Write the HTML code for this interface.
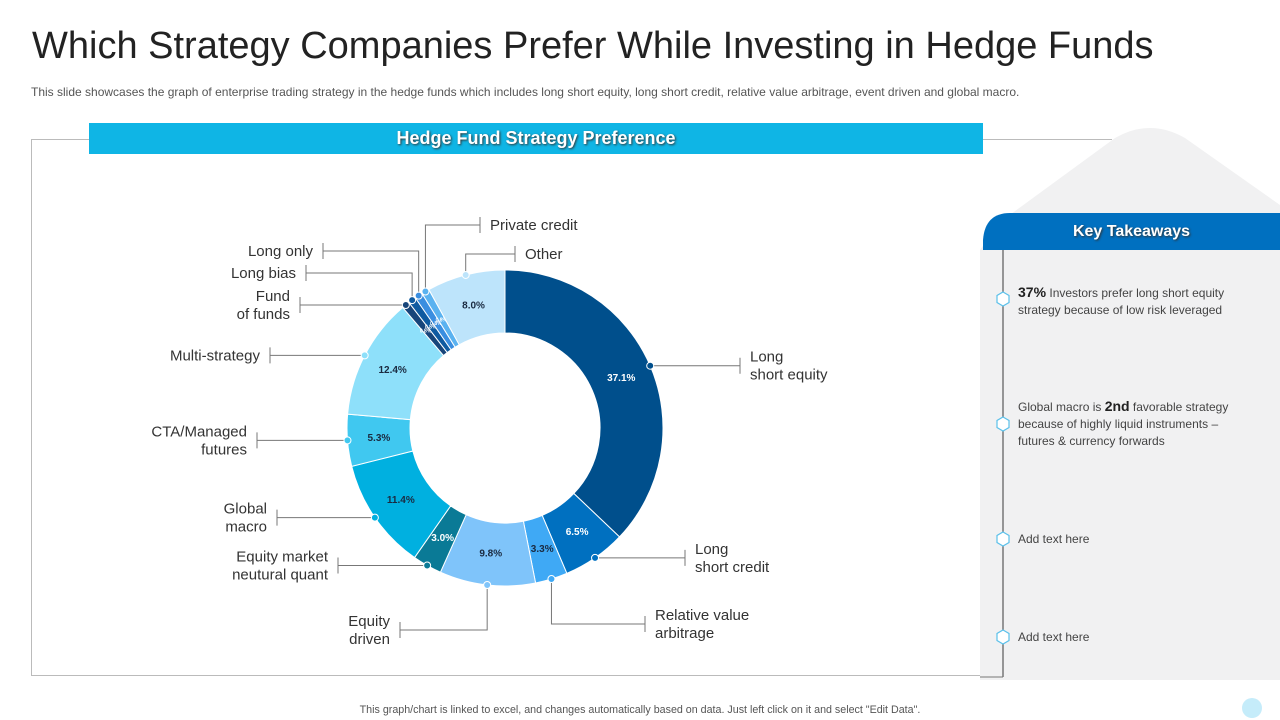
<!DOCTYPE html>
<html><head><meta charset="utf-8">
<style>
body{margin:0;width:1280px;height:720px;background:#fff;font-family:"Liberation Sans",sans-serif;position:relative;overflow:hidden}
.abs{position:absolute}
</style></head><body>
<div class="abs" style="left:32px;top:25px;font-size:38px;color:#222">Which Strategy Companies Prefer While Investing in Hedge Funds</div>
<div class="abs" style="left:31px;top:85px;font-size:12px;color:#555">This slide showcases the graph of enterprise trading strategy in the hedge funds which includes long short equity, long short credit, relative value arbitrage, event driven and global macro.</div>
<div class="abs" style="left:31px;top:139px;width:1080px;height:535px;border:1px solid #bbb;border-right:none"></div>
<svg class="abs" style="left:0;top:0" width="1280" height="720">
<path d="M980 250 L980 680 L1280 680 L1280 205 L1185 138 Q1150 118 1115 138 L1000 222 Z" fill="#f1f1f2"/>
<path d="M983 250 L983 240 Q985 213 1010 213 L1280 213 L1280 250 Z" fill="#0070c0"/>
<line x1="1003" y1="250" x2="1003" y2="677" stroke="#777" stroke-width="1.5"/>
<line x1="980" y1="677" x2="1003" y2="677" stroke="#777" stroke-width="1"/>
<g fill="#fff" stroke="#5bc0ea" stroke-width="1.2">
<polygon points="1003,292 1009,295.5 1009,302.5 1003,306 997,302.5 997,295.5"/>
<polygon points="1003,417 1009,420.5 1009,427.5 1003,431 997,427.5 997,420.5"/>
<polygon points="1003,532 1009,535.5 1009,542.5 1003,546 997,542.5 997,535.5"/>
<polygon points="1003,630 1009,633.5 1009,640.5 1003,644 997,640.5 997,633.5"/>
</g>
<circle cx="1252" cy="708" r="10" fill="#c5ecfa"/>
</svg>
<div class="abs" style="left:89px;top:123px;width:894px;height:31px;background:#0fb5e5;color:#fff;font-weight:bold;font-size:18px;text-align:center;line-height:31px;text-shadow:1px 1px 2px #333">Hedge Fund Strategy Preference</div>
<div class="abs" style="left:983px;top:213px;width:297px;height:37px;line-height:37px;text-align:center;color:#fff;font-weight:bold;font-size:16px;text-shadow:1px 1px 2px #333">Key Takeaways</div>
<div class="abs" style="left:1018px;top:284px;width:240px;font-size:12px;line-height:17px;color:#444"><b style="font-size:14px;color:#222">37%</b> Investors prefer long short equity strategy because of low risk leveraged</div>
<div class="abs" style="left:1018px;top:398px;width:240px;font-size:12px;line-height:17px;color:#444">Global macro is <b style="font-size:14px;color:#222">2nd</b> favorable strategy because of highly liquid instruments – futures &amp; currency forwards</div>
<div class="abs" style="left:1018px;top:532px;font-size:12px;color:#444">Add text here</div>
<div class="abs" style="left:1018px;top:630px;font-size:12px;color:#444">Add text here</div>
<div class="abs" style="left:0;width:1280px;top:704px;text-align:center;font-size:10.7px;color:#555">This graph/chart is linked to excel, and changes automatically based on data. Just left click on it and select "Edit Data".</div>
<svg id="chart" class="abs" style="left:0;top:0" width="1280" height="720"></svg>
<script>
const categories=["Long short equity","Long short credit","Relative value arbitrage","Equity driven","Equity market neutral quant","Global macro","CTA/Managed futures","Multi-strategy","Fund of funds","Long bias","Long only","Private credit","Other"];
const values=[37.1,6.5,3.3,9.8,3.0,11.4,5.3,12.4,0.8,0.8,0.8,0.8,8.0];
const labelLines=[["Long","short equity"],["Long","short credit"],["Relative value","arbitrage"],["Equity","driven"],["Equity market","neutural quant"],["Global","macro"],["CTA/Managed","futures"],["Multi-strategy"],["Fund","of funds"],["Long bias"],["Long only"],["Private credit"],["Other"]];
const colors=["#004f8c","#0070c0","#3fa9f5","#7fc4fa","#0a7a96","#00b0e0","#40c8f0","#8ee0fa","#17457a","#0f5aa0","#3a8ee0","#5ab2f0","#bde4fb"];
// leader layout: [route, endX, labelY, side]
const leaders=[["h",740,368,"r"],["h",685,556,"r"],["v",645,624,"r"],["v",400,630,"l"],["h",338,568,"l"],["h",277,505,"l"],["h",257,442,"l"],["h",270,368,"l"],["h",300,302,"l"],["v",306,273,"l"],["v",323,251,"l"],["v",480,225,"r"],["v",515,254,"r"]];
const svg=document.getElementById('chart');const NS="http://www.w3.org/2000/svg";
const cx=505,cy=428,R=158,r0=95;
const total=values.reduce((a,b)=>a+b,0);
function pt(a,rad){return [cx+rad*Math.sin(a),cy-rad*Math.cos(a)];}
function mk(t,at){const e=document.createElementNS(NS,t);for(const k in at)e.setAttribute(k,at[k]);svg.appendChild(e);return e;}
let acc=0;
values.forEach((v,i)=>{
 const a0=acc/total*2*Math.PI;acc+=v;const a1=acc/total*2*Math.PI;const lg=(a1-a0)>Math.PI?1:0;
 const p0=pt(a0,R),p1=pt(a1,R),q1=pt(a1,r0),q0=pt(a0,r0);
 const p=mk('path',{d:`M${p0[0]} ${p0[1]} A${R} ${R} 0 ${lg} 1 ${p1[0]} ${p1[1]} L${q1[0]} ${q1[1]} A${r0} ${r0} 0 ${lg} 0 ${q0[0]} ${q0[1]} Z`,fill:colors[i],stroke:'#fff','stroke-width':1});
 
 
 const am=(a0+a1)/2;const tp=pt(am,(R+r0)/2);
 const t=mk('text',{x:tp[0],y:tp[1]+3,'text-anchor':'middle','font-size':v<1?5:10,'font-weight':'bold',fill:(i<2||i==4||i>=8&&i<12)?'#fff':'#1a2a40'});
 t.textContent=v.toFixed(1)+'%';
 
 
 const L=leaders[i];const d=pt(am,R);
 let pts=L[0]=="h"?[[d[0],d[1]],[L[1],d[1]]]:[[d[0],d[1]],[d[0],L[2]],[L[1],L[2]]];
 const ly=pts[pts.length-1][1];
 const pl=mk('polyline',{points:pts.map(q=>q.join(',')).join(' '),fill:'none',stroke:'#777','stroke-width':1});
 
 
 mk('line',{x1:L[1],y1:ly-8,x2:L[1],y2:ly+8,stroke:'#777','stroke-width':1});
 const c=mk('circle',{cx:d[0],cy:d[1],r:3.5,fill:colors[i],stroke:'#fff','stroke-width':1});
 
 
 const lines=labelLines[i];const right=L[3]=="r";
 lines.forEach((s,j)=>{
  const y=ly+5-(lines.length-1)*9+j*18;
  const tx=mk('text',{x:right?L[1]+10:L[1]-10,y:y,'text-anchor':right?'start':'end','font-size':15,fill:'#333'});
  tx.textContent=s;
  
  
 });
});
</script>
</body></html>
